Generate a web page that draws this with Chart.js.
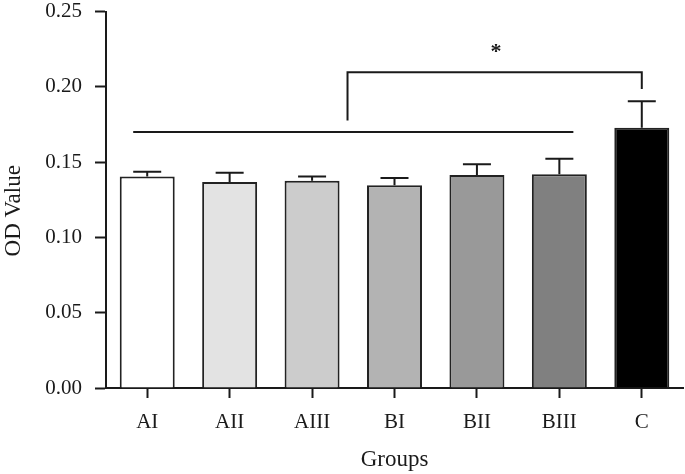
<!DOCTYPE html>
<html>
<head>
<meta charset="utf-8">
<script src="https://cdn.jsdelivr.net/npm/chart.js@4/dist/chart.umd.min.js"></script>
<style>
html,body{margin:0;padding:0;background:#fff;overflow:hidden;}
#wrap{width:685px;height:474px;position:relative;overflow:hidden;}
#c{position:absolute;left:0;top:-14px;}
</style>
</head>
<body>
<div id="wrap"><canvas id="c" width="685" height="488"></canvas></div>
<script>
const categories = ['AI','AII','AIII','BI','BII','BIII','C'];
const odValues = [0.1404, 0.1369, 0.1376, 0.1347, 0.1415, 0.1420, 0.1728];
const errorTops = [0.1437, 0.1429, 0.1404, 0.1394, 0.1486, 0.1523, 0.1904];
const barColors = ['#ffffff','#e3e3e3','#cccccc','#b3b3b3','#999999','#808080','#000000'];
const yTicks = [0.00, 0.05, 0.10, 0.15, 0.20, 0.25];
const yTitle = 'OD Value';
const xTitle = 'Groups';
// significance annotations (category index / OD value)
const groupLine = {fromIndex: -0.17, toIndex: 5.17, value: 0.170};
const bracket = {fromIndex: 2.43, toIndex: 6, value: 0.2098, leftEnd: 0.1777, rightEnd: 0.1986};
const star = {index: 4.23, value: 0.2255, label: '*'};

const FONT = '"Liberation Serif", "Times New Roman", serif';
const INK = '#1a1a1a';

const annot = {
  id: 'annot',
  afterDatasetsDraw(chart) {
    const ctx = chart.ctx;
    const x = chart.scales.x, y = chart.scales.y;
    ctx.save();
    ctx.strokeStyle = INK;
    ctx.lineWidth = 2;
    ctx.lineCap = 'butt';
    odValues.forEach((v, i) => {
      const cx = x.getPixelForValue(i);
      const yb = y.getPixelForValue(v);
      const yt = y.getPixelForValue(errorTops[i]);
      ctx.beginPath();
      ctx.moveTo(cx, yb); ctx.lineTo(cx, yt);
      ctx.moveTo(cx - 14, yt); ctx.lineTo(cx + 14, yt);
      ctx.stroke();
    });
    ctx.beginPath();
    const gy = y.getPixelForValue(groupLine.value);
    ctx.moveTo(x.getPixelForValue(groupLine.fromIndex), gy);
    ctx.lineTo(x.getPixelForValue(groupLine.toIndex), gy);
    ctx.stroke();
    const bx1 = x.getPixelForValue(bracket.fromIndex), bx2 = x.getPixelForValue(bracket.toIndex);
    const by = y.getPixelForValue(bracket.value);
    ctx.beginPath();
    ctx.moveTo(bx1, y.getPixelForValue(bracket.leftEnd));
    ctx.lineTo(bx1, by);
    ctx.lineTo(bx2, by);
    ctx.lineTo(bx2, y.getPixelForValue(bracket.rightEnd));
    ctx.stroke();
    ctx.fillStyle = INK;
    ctx.font = 'bold 22px ' + FONT;
    ctx.textAlign = 'center';
    ctx.textBaseline = 'middle';
    ctx.fillText(star.label, x.getPixelForValue(star.index), y.getPixelForValue(star.value) + 4);
    // y title
    ctx.font = '23px ' + FONT;
    ctx.textBaseline = 'middle';
    ctx.translate(14, (chart.chartArea.top + chart.chartArea.bottom) / 2 + 11);
    ctx.rotate(-Math.PI / 2);
    ctx.fillText(yTitle, 0, 0);
    ctx.restore();
  }
};

new Chart(document.getElementById('c'), {
  type: 'bar',
  data: {
    labels: categories,
    datasets: [{
      data: odValues,
      backgroundColor: barColors,
      borderColor: '#222222',
      borderWidth: 2,
      borderSkipped: 'start',
      barPercentage: 0.667,
      categoryPercentage: 1.0
    }]
  },
  options: {
    responsive: false,
    animation: false,
    devicePixelRatio: 1,
    layout: {padding: {top: 0, right: 2, left: 0, bottom: 0}},
    plugins: {legend: {display: false}, tooltip: {enabled: false}},
    scales: {
      x: {
        offset: true,
        grid: {display: true, drawOnChartArea: false, drawTicks: true, tickLength: 10, tickColor: INK, tickWidth: 2, offset: false},
        border: {display: true, color: INK, width: 2},
        ticks: {color: INK, font: {family: FONT, size: 21}, padding: 12, maxRotation: 0},
        title: {display: true, text: xTitle, color: INK, font: {family: FONT, size: 23}, padding: {top: 3, bottom: 0}},
        afterFit(s) { s.height = 86; }
      },
      y: {
        min: 0, max: 0.25,
        afterBuildTicks(s) { s.ticks = yTicks.map(v => ({value: v})); },
        grid: {display: true, drawOnChartArea: false, drawTicks: true, tickLength: 11, tickColor: INK, tickWidth: 2},
        border: {display: true, color: INK, width: 2},
        ticks: {color: INK, font: {family: FONT, size: 21}, padding: 13, callback: v => Number(v).toFixed(2)},
        afterFit(s) { s.width = 106; }
      }
    }
  },
  plugins: [annot]
});
</script>
</body>
</html>
